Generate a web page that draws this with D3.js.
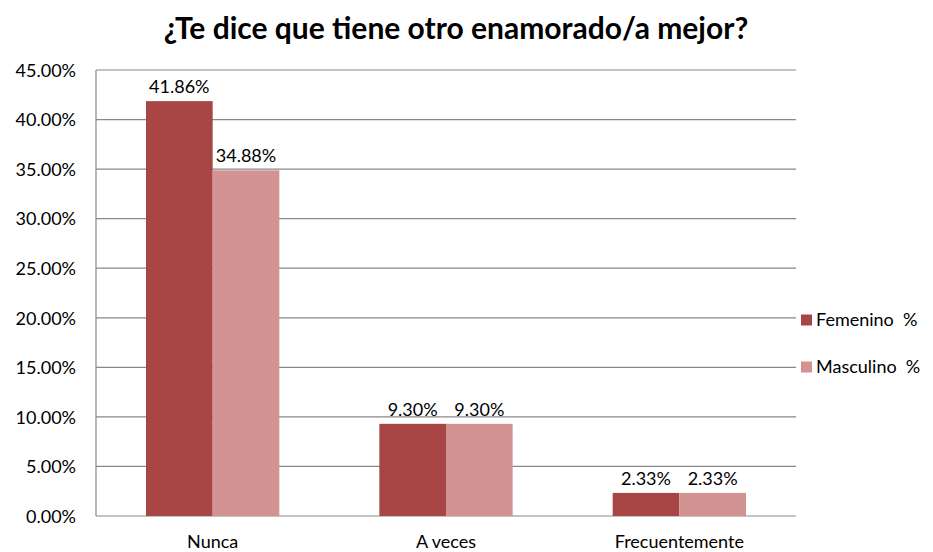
<!DOCTYPE html>
<meta charset="utf-8">
<head>
<style>
body { margin: 0; background: #fff; }
text { font-family: Lato, "Open Sans", sans-serif; fill: #000; white-space: pre; }
</style>
<script src="https://d3js.org/d3.v7.min.js"></script>
</head>
<body>
<div id="chart"></div>
<script>
var categories = ["Nunca", "A veces", "Frecuentemente"];
var seriesNames = ["Femenino  %", "Masculino  %"];
var femenino = [41.86, 9.30, 2.33];
var masculino = [34.88, 9.30, 2.33];
var yTicks = [0, 5, 10, 15, 20, 25, 30, 35, 40, 45];
var colors = ["#a84646", "#d39392"];

var width = 933, height = 552;
var margin = {top: 70, left: 96, right: 137, bottom: 36};
var plotW = width - margin.left - margin.right,
    plotH = height - margin.top - margin.bottom;

var svg = d3.select("#chart").append("svg")
    .attr("width", width)
    .attr("height", height);

svg.append("text")
    .attr("x", 456)
    .attr("y", 39)
    .attr("text-anchor", "middle")
    .style("font-size", "30px")
    .style("font-weight", "bold")
    .text("¿Te dice que tiene otro enamorado/a mejor?");

var g = svg.append("g").attr("transform", "translate(" + margin.left + "," + margin.top + ")");

var x = d3.scaleBand().domain(categories).range([0, plotW]).paddingInner(0).paddingOuter(0);
var x1 = d3.scaleBand().domain(seriesNames).range([50, x.bandwidth() - 50]);
var y = d3.scaleLinear().domain([0, 45]).range([plotH, 0]);

// gridlines
g.selectAll(".grid").data(yTicks).enter().append("line")
    .attr("x1", 0).attr("x2", plotW)
    .attr("y1", function(d) { return y(d); })
    .attr("y2", function(d) { return y(d); })
    .attr("stroke", "#888").attr("stroke-width", 1.2);

g.append("line").attr("x1", 0).attr("x2", 0).attr("y1", 0).attr("y2", plotH)
    .attr("stroke", "#888").attr("stroke-width", 1.2);

var yAxis = g.append("g").call(d3.axisLeft(y).tickValues(yTicks).tickSize(0).tickPadding(20)
    .tickFormat(function(d) { return d.toFixed(2) + "%"; }));
yAxis.select(".domain").remove();
yAxis.selectAll("text").style("font-size", "18px").attr("dy", "0.35em");

var xAxis = g.append("g").attr("transform", "translate(0," + plotH + ")")
    .call(d3.axisBottom(x).tickSize(0).tickPadding(19));
xAxis.select(".domain").remove();
xAxis.selectAll("text").style("font-size", "18px");

var rows = categories.map(function(c, i) {
  return [{s: seriesNames[0], v: femenino[i], c: 0}, {s: seriesNames[1], v: masculino[i], c: 1}];
});

var groups = g.selectAll(".cat").data(rows).enter().append("g")
    .attr("transform", function(d, i) { return "translate(" + x(categories[i]) + ",0)"; });

groups.selectAll("rect").data(function(d) { return d; }).enter().append("rect")
    .attr("x", function(d) { return x1(d.s); })
    .attr("width", x1.bandwidth())
    .attr("y", function(d) { return y(d.v); })
    .attr("height", function(d) { return plotH - y(d.v); })
    .attr("fill", function(d) { return colors[d.c]; });

groups.selectAll(".lbl").data(function(d) { return d; }).enter().append("text")
    .attr("x", function(d) { return x1(d.s) + x1.bandwidth() / 2; })
    .attr("y", function(d) { return y(d.v) - 8; })
    .attr("text-anchor", "middle")
    .style("font-size", "18px")
    .text(function(d) { return d.v.toFixed(2) + "%"; });

var legend = svg.append("g");
var legY = [320, 367];
seriesNames.forEach(function(s, i) {
  legend.append("rect").attr("x", 801).attr("y", legY[i] - 5.5).attr("width", 11).attr("height", 11)
      .attr("fill", colors[i]);
  legend.append("text").attr("x", 816).attr("y", legY[i]).attr("dy", "0.35em")
      .style("font-size", "18px").text(s);
});
</script>
</body>
